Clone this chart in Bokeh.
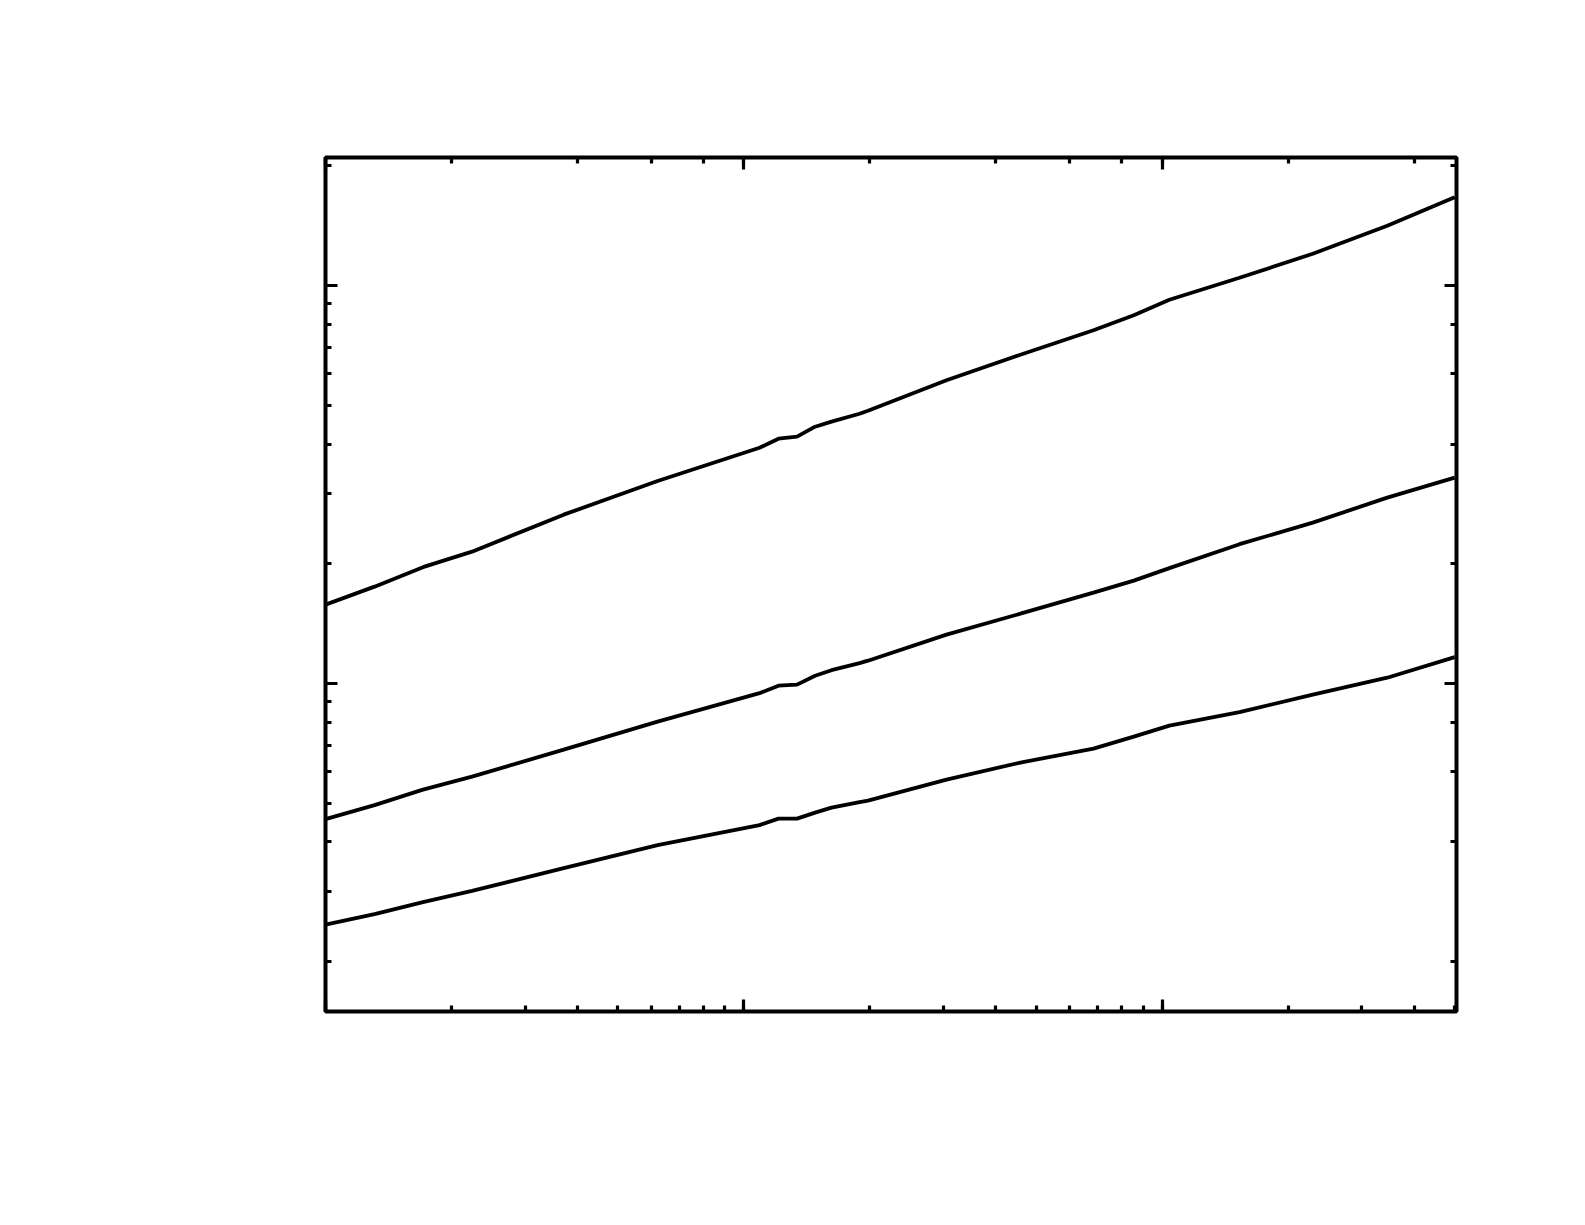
from bokeh.plotting import figure
from bokeh.models import LogAxis, LogTicker
from bokeh.embed import file_html
from bokeh.resources import INLINE

# x positions (log scale)
x_vals = [1.0, 1.31, 1.71, 2.24, 3.71, 6.22, 10.9, 12.1, 13.4, 14.8, 16.2, 18.9, 19.8,
          30.5, 45.8, 68.5, 85.5, 104, 153, 229, 345, 500]

# upper curve
y_top = [1.580, 1.753, 1.962, 2.146, 2.659, 3.230, 3.917, 4.126, 4.174, 4.423, 4.553,
         4.768, 4.852, 5.788, 6.709, 7.730, 8.433, 9.222, 10.47, 12.03, 14.15, 16.69]

# middle curve
y_mid = [0.4565, 0.4951, 0.5415, 0.5839, 0.6824, 0.8028, 0.9465, 0.9885, 0.9942, 1.047,
         1.081, 1.126, 1.142, 1.328, 1.499, 1.693, 1.815, 1.951, 2.241, 2.539, 2.934, 3.293]

# lower curve
y_low = [0.2480, 0.2636, 0.2825, 0.3014, 0.3440, 0.3928, 0.4410, 0.4579, 0.4579, 0.4741,
         0.4880, 0.5038, 0.5082, 0.5739, 0.6333, 0.6864, 0.7360, 0.7844, 0.8479, 0.9383,
         1.035, 1.166]

x_lim = (1.0, 505.0)
y_lim = (0.15, 21.0)

p = figure(x_axis_type="log", y_axis_type="log",
           x_range=x_lim, y_range=y_lim,
           frame_width=1131, frame_height=854,
           min_border_left=325, min_border_right=90,
           min_border_top=157, min_border_bottom=180,
           output_backend="svg", toolbar_location=None)

p.background_fill_color = "white"
p.border_fill_color = "white"
p.xgrid.grid_line_color = None
p.ygrid.grid_line_color = None
p.outline_line_color = "black"
p.outline_line_width = 4

p.add_layout(LogAxis(ticker=LogTicker()), "above")
p.add_layout(LogAxis(ticker=LogTicker()), "right")

for ax in p.axis:
    ax.axis_line_color = None
    ax.major_tick_in = 12
    ax.major_tick_out = 0
    ax.minor_tick_in = 6
    ax.minor_tick_out = 0
    ax.major_tick_line_width = 3.2
    ax.minor_tick_line_width = 3.2
    ax.major_tick_line_color = "black"
    ax.minor_tick_line_color = "black"
    ax.major_label_text_color = None
    ax.major_label_text_font_size = "1px"

for ys in (y_top, y_mid, y_low):
    p.line(x_vals, ys, line_color="black", line_width=3.8)

open("out.html", "w").write(file_html(p, INLINE))
